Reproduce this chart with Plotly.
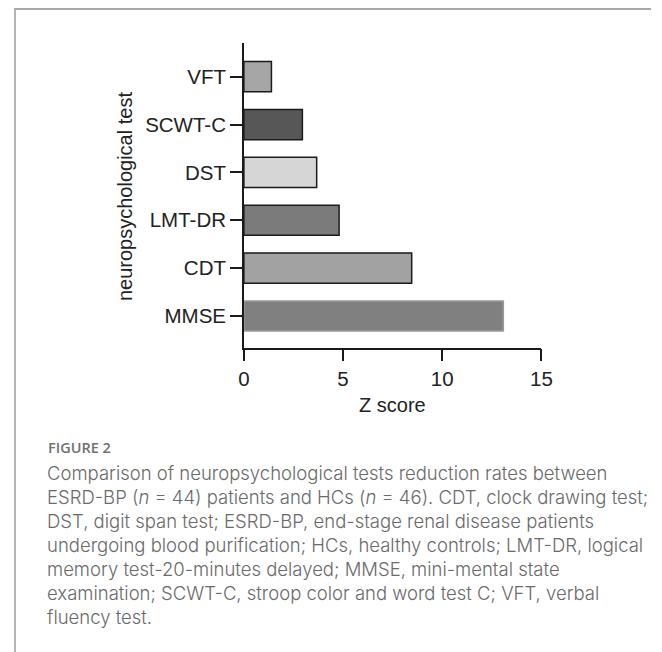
import plotly.graph_objects as go

# ---- data ----
tests = ["MMSE", "CDT", "LMT-DR", "DST", "SCWT-C", "VFT"]
z_scores = [13.08, 8.46, 4.8, 3.67, 2.95, 1.39]
bar_colors = ["#808080", "#a2a2a2", "#7b7b7b", "#d6d6d6", "#575757", "#a6a6a6"]
bar_edges = ["#9a9a9a", "#1a1a1a", "#1a1a1a", "#1a1a1a", "#1a1a1a", "#1a1a1a"]
x_ticks = [0, 5, 10, 15]
x_title = "Z score"
y_title = "neuropsychological test"
fig_label = "FIGURE 2"
caption_lines = [
    "Comparison of neuropsychological tests reduction rates between",
    "ESRD-BP (<i>n</i> = 44) patients and HCs (<i>n</i> = 46). CDT, clock drawing test;",
    "DST, digit span test; ESRD-BP, end-stage renal disease patients",
    "undergoing blood purification; HCs, healthy controls; LMT-DR, logical",
    "memory test-20-minutes delayed; MMSE, mini-mental state",
    "examination; SCWT-C, stroop color and word test C; VFT, verbal",
    "fluency test.",
]

# page body has an 8px margin; figure sized to fill the rest of the window
OFF = 8
W, H = 662 - OFF, 652 - OFF
def px(x):
    return (x - OFF) / W
def py(y):
    return 1 - (y - OFF) / H

fig = go.Figure()
fig.add_trace(go.Bar(
    x=z_scores, y=tests, orientation="h",
    marker=dict(color=bar_colors, line=dict(color=bar_edges, width=1.5)),
    width=0.63, showlegend=False, hoverinfo="x+y",
))

tick_font = dict(family="Liberation Sans, Arial, sans-serif", size=20.5, color="#222222")
title_font = dict(family="Liberation Sans, Arial, sans-serif", size=20, color="#222222")

fig.update_layout(
    width=W, height=H, autosize=False,
    margin=dict(l=0, r=0, t=0, b=0),
    paper_bgcolor="white", plot_bgcolor="white",
    xaxis=dict(
        domain=[px(244), px(549.5)], range=[0, 15],
        tickvals=x_ticks, ticktext=[str(v) for v in x_ticks],
        showline=True, linecolor="#1a1a1a", linewidth=1.5,
        ticks="outside", ticklen=12, tickwidth=1.5, tickcolor="#1a1a1a",
        showgrid=False, zeroline=False, tickfont=tick_font,
        anchor="y",
    ),
    yaxis=dict(
        domain=[py(347.7), py(42.7)],
        type="category", categoryorder="array", categoryarray=tests,
        range=[-0.662, 5.71],
        showline=True, linecolor="#1a1a1a", linewidth=1.5,
        ticks="outside", ticklen=12, tickwidth=1.5, tickcolor="#1a1a1a",
        showgrid=False, zeroline=False, tickfont=tick_font,
        anchor="x",
    ),
)

annotations = [
    dict(text=x_title, x=px(396.5), y=py(405), xref="paper", yref="paper",
         xanchor="center", yanchor="middle", showarrow=False, font=title_font),
    dict(text=y_title, x=px(122), y=py(197), xref="paper", yref="paper",
         xanchor="center", yanchor="middle", showarrow=False, textangle=-90,
         font=title_font),
    dict(text=fig_label, x=px(41), y=py(447), xref="paper", yref="paper",
         xanchor="left", yanchor="middle", showarrow=False,
         font=dict(family="Open Sans, sans-serif", size=14.5, color="#707070", weight=600)),
]
line_y = [473, 497, 521, 545, 569, 593, 617]
for txt, yy in zip(caption_lines, line_y):
    annotations.append(dict(
        text=txt, x=px(40), y=py(yy), xref="paper", yref="paper",
        xanchor="left", yanchor="middle", showarrow=False,
        font=dict(family="Inter, sans-serif", size=18.5, color="#6a6a6a", weight=300),
    ))
fig.update_layout(annotations=annotations)

shapes = [
    dict(type="line", xref="paper", yref="paper", x0=0, x1=1, y0=py(9), y1=py(9),
         line=dict(color="#a8a8a8", width=2)),
    dict(type="line", xref="paper", yref="paper", x0=px(9), x1=px(9), y0=py(9), y1=0,
         line=dict(color="#b4b4b4", width=2)),
]
fig.update_layout(shapes=shapes)

fig.write_html("out.html")
